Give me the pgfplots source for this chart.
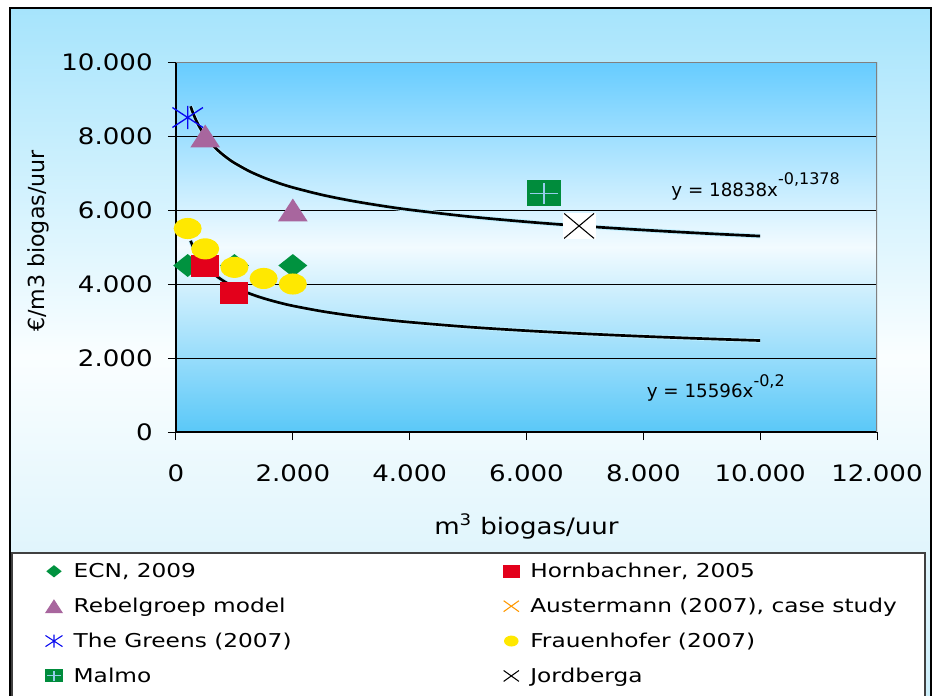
\documentclass[border=0pt]{standalone}
\usepackage{fontspec}
\setmainfont{DejaVu Sans}
\newfontfamily\widefont{DejaVu Sans}[FakeStretch=1.15]
\newfontfamily\legfont{DejaVu Sans}[FakeStretch=1.22]
\usepackage{pgfplots}
\pgfplotsset{compat=1.18}

\definecolor{outtop}{RGB}{166,228,252}
\definecolor{outmid}{RGB}{250,254,255}
\definecolor{outbot}{RGB}{204,238,250}
\definecolor{plottop}{RGB}{102,204,255}
\definecolor{plotmid}{RGB}{242,251,255}
\definecolor{plotbot}{RGB}{90,200,248}
\definecolor{ecngreen}{RGB}{0,146,63}
\definecolor{hornred}{RGB}{227,0,27}
\definecolor{rebel}{RGB}{168,102,158}
\definecolor{greens}{RGB}{10,10,240}
\definecolor{frauen}{RGB}{255,232,0}
\definecolor{malmo}{RGB}{0,140,60}
\definecolor{plusblue}{RGB}{150,205,235}
\definecolor{auster}{RGB}{255,153,0}
\definecolor{halo}{RGB}{190,240,255}

% eigen markers (Excel-achtig, iets breder dan hoog)
\pgfdeclareplotmark{dia}{%
  \pgfpathmoveto{\pgfqpoint{0pt}{\pgfplotmarksize}}%
  \pgfpathlineto{\pgfqpoint{1.26\pgfplotmarksize}{0pt}}%
  \pgfpathlineto{\pgfqpoint{0pt}{-\pgfplotmarksize}}%
  \pgfpathlineto{\pgfqpoint{-1.26\pgfplotmarksize}{0pt}}%
  \pgfpathclose\pgfusepathqfill}
\pgfdeclareplotmark{box}{%
  \pgfpathrectangle{\pgfqpoint{-1.27\pgfplotmarksize}{-\pgfplotmarksize}}{\pgfqpoint{2.54\pgfplotmarksize}{2\pgfplotmarksize}}%
  \pgfusepathqfill}
\pgfdeclareplotmark{tri}{%
  \pgfpathmoveto{\pgfqpoint{0pt}{\pgfplotmarksize}}%
  \pgfpathlineto{\pgfqpoint{1.3\pgfplotmarksize}{-\pgfplotmarksize}}%
  \pgfpathlineto{\pgfqpoint{-1.3\pgfplotmarksize}{-\pgfplotmarksize}}%
  \pgfpathclose\pgfusepathqfill}
\pgfdeclareplotmark{ell}{%
  \pgfpathellipse{\pgfpointorigin}{\pgfqpoint{1.33\pgfplotmarksize}{0pt}}{\pgfqpoint{0pt}{\pgfplotmarksize}}%
  \pgfusepathqfill}
\pgfdeclareplotmark{star}{%
  \pgfpathmoveto{\pgfqpoint{0pt}{\pgfplotmarksize}}%
  \pgfpathlineto{\pgfqpoint{0pt}{-\pgfplotmarksize}}%
  \pgfpathmoveto{\pgfqpoint{-1.3\pgfplotmarksize}{.85\pgfplotmarksize}}%
  \pgfpathlineto{\pgfqpoint{1.3\pgfplotmarksize}{-.85\pgfplotmarksize}}%
  \pgfpathmoveto{\pgfqpoint{-1.3\pgfplotmarksize}{-.85\pgfplotmarksize}}%
  \pgfpathlineto{\pgfqpoint{1.3\pgfplotmarksize}{.85\pgfplotmarksize}}%
  \pgfusepathqstroke}
\pgfdeclareplotmark{sqplus}{%
  \pgfpathrectangle{\pgfqpoint{-1.31\pgfplotmarksize}{-\pgfplotmarksize}}{\pgfqpoint{2.62\pgfplotmarksize}{2\pgfplotmarksize}}%
  \pgfusepathqfill
  \pgfsetstrokecolor{plusblue}\pgfsetlinewidth{0.8pt}%
  \pgfpathmoveto{\pgfqpoint{-1.1\pgfplotmarksize}{0pt}}%
  \pgfpathlineto{\pgfqpoint{1.1\pgfplotmarksize}{0pt}}%
  \pgfpathmoveto{\pgfqpoint{0pt}{-.82\pgfplotmarksize}}%
  \pgfpathlineto{\pgfqpoint{0pt}{.82\pgfplotmarksize}}%
  \pgfusepathqstroke}
\pgfdeclareplotmark{wx}{%
  \pgfsetfillcolor{white}%
  \pgfpathrectangle{\pgfqpoint{-1.27\pgfplotmarksize}{-\pgfplotmarksize}}{\pgfqpoint{2.54\pgfplotmarksize}{2\pgfplotmarksize}}%
  \pgfusepathqfill
  \pgfpathmoveto{\pgfqpoint{-1.15\pgfplotmarksize}{-.96\pgfplotmarksize}}%
  \pgfpathlineto{\pgfqpoint{1.15\pgfplotmarksize}{.96\pgfplotmarksize}}%
  \pgfpathmoveto{\pgfqpoint{-1.15\pgfplotmarksize}{.96\pgfplotmarksize}}%
  \pgfpathlineto{\pgfqpoint{1.15\pgfplotmarksize}{-.96\pgfplotmarksize}}%
  \pgfusepathqstroke}
\pgfdeclareplotmark{xx}{%
  \pgfpathmoveto{\pgfqpoint{-1.4\pgfplotmarksize}{-\pgfplotmarksize}}%
  \pgfpathlineto{\pgfqpoint{1.4\pgfplotmarksize}{\pgfplotmarksize}}%
  \pgfpathmoveto{\pgfqpoint{-1.4\pgfplotmarksize}{\pgfplotmarksize}}%
  \pgfpathlineto{\pgfqpoint{1.4\pgfplotmarksize}{-\pgfplotmarksize}}%
  \pgfusepathqstroke}

\newcommand{\lc}[1]{\hspace*{6pt}\makebox[320pt][l]{#1}}
\newcommand{\rc}[1]{\hspace*{6pt}#1}

\begin{document}
\begin{tikzpicture}
\useasboundingbox (0,0) rectangle (702pt,-522pt);
\fill[white] (0,0) rectangle (702pt,-522pt);
% buitenkader met verloop
\shade[top color=outtop, bottom color=outbot, middle color=outmid] (7.5pt,-6pt) rectangle (698.25pt,-528pt);
\draw[black, line width=1.4pt] (7.5pt,-6pt) rectangle (698.25pt,-528pt);
% legendavlak
\draw[fill=white, draw=black!75, line width=0.8pt] (9pt,-414.75pt) rectangle (693.75pt,-540pt);

\begin{axis}[
    scale only axis,
    width=525.75pt, height=277.5pt,
    at={(132pt,-324pt)}, anchor=south west,
    xmin=0, xmax=12000, ymin=0, ymax=10000,
    xtick={0,2000,...,12000},
    ytick={0,2000,...,10000},
    scaled ticks=false,
    /pgf/number format/use comma,
    /pgf/number format/assume math mode=true,
    axis lines*=left,
    axis line style={-, black, line width=1.1pt},
    axis background/.style={shade, top color=plottop, bottom color=plotbot, middle color=plotmid},
    tick align=outside,
    major tick length=6pt,
    tick style={black, line width=0.75pt},
    ymajorgrids=true,
    grid style={black, line width=0.7pt},
    ticklabel style={font=\widefont\fontsize{17}{20}\selectfont},
    xticklabel style={anchor=base, yshift=-31pt},
    yticklabel style={anchor=east, xshift=-8pt},
    xlabel={m\textsuperscript{3} biogas/uur},
    ylabel={€/m3 biogas/uur},
    xlabel style={font=\widefont\fontsize{17}{20}\selectfont, at={(axis description cs:0.5,-0.255)}, anchor=center},
    ylabel style={font=\fontsize{16.6}{20}\selectfont, at={(axis description cs:-0.197,0.516)}, anchor=center},
    legend columns=2,
    legend cell align=left,
    legend style={at={(axis description cs:-0.193,-0.339)}, anchor=north west,
        draw=none, fill=none, row sep=9.8pt,
        font=\legfont\fontsize{14.3}{17}\selectfont},
]

% meetpunten
\addplot[only marks, mark=dia, mark size=8.6pt, color=ecngreen, forget plot]
    coordinates {(200,4500)(1000,4500)(2000,4500)};
\addplot[only marks, mark=box, mark size=8.25pt, color=hornred, forget plot]
    coordinates {(500,4500)(1000,3750)};
\addplot[only marks, mark=tri, mark size=8.6pt, color=rebel, forget plot]
    coordinates {(500,8000)(2000,6000)};
\addplot[only marks, mark=star, mark size=8.8pt, color=greens, mark options={line width=1pt}, forget plot]
    coordinates {(200,8500)};
\addplot[only marks, mark=ell, mark size=7.9pt, color=frauen, forget plot]
    coordinates {(200,5500)(500,4950)(1000,4450)(1500,4150)(2000,4000)};
\addplot[only marks, mark=sqplus, mark size=9.75pt, color=malmo, forget plot]
    coordinates {(6300,6450)};
\addplot[only marks, mark=wx, mark size=9.75pt, color=black, mark options={line width=0.8pt}, forget plot]
    coordinates {(6900,5570)};

% trendlijnen (machtsfuncties)
\addplot[color=halo, line width=3.4pt, smooth, forget plot] coordinates {
    (250,8802)(275,8688)(300,8584)(350,8404)(400,8250)(450,8118)(500,8001)
    (600,7802)(700,7638)(800,7499)(900,7378)(1000,7272)(1250,7052)(1500,6877)
    (1750,6732)(2000,6609)(2500,6409)(3000,6250)(3500,6119)(4000,6007)(5000,5825)
    (6000,5681)(7000,5561)(8000,5460)(9000,5372)(10000,5295)};
\addplot[color=black, line width=2pt, smooth, forget plot] coordinates {
    (250,8802)(275,8688)(300,8584)(350,8404)(400,8250)(450,8118)(500,8001)
    (600,7802)(700,7638)(800,7499)(900,7378)(1000,7272)(1250,7052)(1500,6877)
    (1750,6732)(2000,6609)(2500,6409)(3000,6250)(3500,6119)(4000,6007)(5000,5825)
    (6000,5681)(7000,5561)(8000,5460)(9000,5372)(10000,5295)};
\addplot[color=halo, line width=3.4pt, smooth, forget plot] coordinates {
    (250,5169)(275,5072)(300,4984)(350,4833)(400,4706)(450,4596)(500,4500)
    (600,4339)(700,4207)(800,4096)(900,4001)(1000,3918)(1250,3747)(1500,3613)
    (1750,3503)(2000,3410)(2500,3262)(3000,3145)(3500,3049)(4000,2969)(5000,2839)
    (6000,2738)(7000,2655)(8000,2585)(9000,2525)(10000,2472)};
\addplot[color=black, line width=2pt, smooth, forget plot] coordinates {
    (250,5169)(275,5072)(300,4984)(350,4833)(400,4706)(450,4596)(500,4500)
    (600,4339)(700,4207)(800,4096)(900,4001)(1000,3918)(1250,3747)(1500,3613)
    (1750,3503)(2000,3410)(2500,3262)(3000,3145)(3500,3049)(4000,2969)(5000,2839)
    (6000,2738)(7000,2655)(8000,2585)(9000,2525)(10000,2472)};

\draw[gray, line width=0.9pt] (rel axis cs:0,1) -- (rel axis cs:1,1) -- (rel axis cs:1,0);

\node[anchor=base west, font=\fontsize{13.7}{16}\selectfont] at (axis cs:8400,6360)
    {y = 18838x\raisebox{9pt}{\fontsize{12}{14}\selectfont -0,1378}};
\node[anchor=base west, font=\fontsize{13.7}{16}\selectfont] at (axis cs:7980,920)
    {y = 15596x\raisebox{8.5pt}{\fontsize{12}{14}\selectfont -0,2}};

% legenda
\addlegendimage{only marks, mark=dia, mark size=4.6pt, color=ecngreen}
\addlegendentry{\lc{ECN, 2009}}
\addlegendimage{only marks, mark=box, mark size=4.9pt, color=hornred}
\addlegendentry{\rc{Hornbachner, 2005}}
\addlegendimage{only marks, mark=tri, mark size=5.2pt, color=rebel}
\addlegendentry{\lc{Rebelgroep model}}
\addlegendimage{only marks, mark=xx, mark size=4.1pt, color=auster, mark options={line width=0.8pt}}
\addlegendentry{\rc{Austermann (2007), case study}}
\addlegendimage{only marks, mark=star, mark size=4.9pt, color=greens, mark options={line width=0.8pt}}
\addlegendentry{\lc{The Greens (2007)}}
\addlegendimage{only marks, mark=ell, mark size=4.1pt, color=frauen}
\addlegendentry{\rc{Frauenhofer (2007)}}
\addlegendimage{only marks, mark=sqplus, mark size=4.9pt, color=malmo}
\addlegendentry{\lc{Malmo}}
\addlegendimage{only marks, mark=xx, mark size=4.1pt, color=black, mark options={line width=0.8pt}}
\addlegendentry{\rc{Jordberga}}
\end{axis}
\end{tikzpicture}
\end{document}
